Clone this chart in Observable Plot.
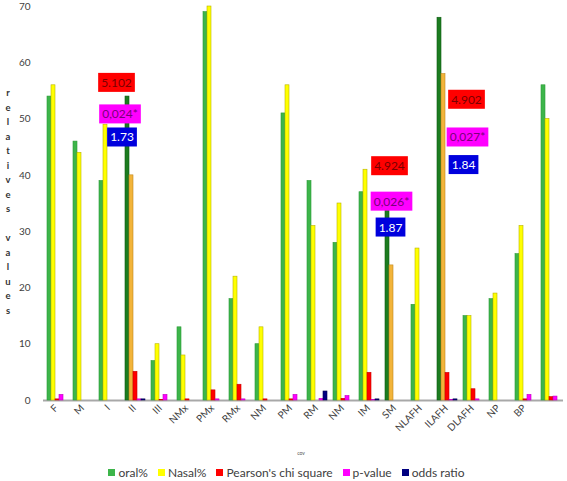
<!DOCTYPE html>
<html><head><meta charset="utf-8">
<script src="https://cdn.jsdelivr.net/npm/d3@7"></script>
<script src="https://cdn.jsdelivr.net/npm/@observablehq/plot@0.6"></script>
<style>
body{margin:0;background:#fff;font-family:Lato,"Open Sans",sans-serif;}
#chart{width:567px;height:481px;position:relative;overflow:hidden;}
#chart svg{display:block;}
.legend{display:flex;justify-content:center;align-items:center;height:21px;margin-top:2px;font-size:12px;color:#404040;padding-left:6px;}
.legend span.item{display:flex;align-items:center;margin:0 5px;}
.legend span.sw{display:inline-block;width:7px;height:7px;margin-right:3px;}
</style></head><body><div id="chart"></div><script>
// ---- data ----
const categories = ["F","M","I","II","III","NMx","PMx","RMx","NM","PM","RM","NM","IM","SM","NLAFH","ILAFH","DLAFH","NP","BP",""];
const oral      = [54,46,39,54,7,13,69,18,10,51,39,28,37,34,17,68,15,18,26,56];
const nasal     = [56,44,49,40,10,8,70,22,13,56,31,35,41,24,27,58,15,19,31,50];
const chiSquare = [0.2,0,0,5.102,0.1,0.2,1.8,2.8,0.2,0.2,0,0.3,4.924,0,0,4.902,2.0,0,0.2,0.6];
const pValue    = [1.0,0,0,0.2,1.0,0,0.2,0.2,0,1.0,0.3,0.8,0.1,0,0,0.1,0.2,0,1.0,0.7];
const oddsRatio = [0,0,0,0.2,0,0,0,0,0,0,1.6,0,0.2,0,0,0.2,0,0,0,0];
const series = ["oral%","Nasal%","Pearson's chi square","p-value","odds ratio"];
const significantGroups = [3,13,15];
const chiLabels = ["5.102","4.924","4.902"];
const pLabels   = ["0,024*","0,026*","0,027*"];
const orLabels  = ["1.73","1.87","1.84"];
const yTicks = [0,10,20,30,40,50,60,70];

// ---- styling / layout ----
const seriesColors = ["#3db54a","#ffff00","#ff0000","#ff00ff","#000080"];
const seriesStroke = ["#2a9a36","#b8b400","#c80000","#c000c0","#000050"];
const sigFill = ["#1c7c20","#f2b43a"];
const sigStroke = ["#0f5a12","#c08820"];
// annotation anchor (y in data units) and horizontal offset (px) per significant group
const annY  = [[56.4,50.8,46.7],[41.6,35.3,30.7],[53.4,46.7,41.8]];
const annDx = [[-18,-14.5,-12.5],[-5,-3,-4],[20,21,17]];
const annStyle = [
  {labels: chiLabels, box:"#ff0000", text:"#7a0000"},
  {labels: pLabels,   box:"#ff00ff", text:"#7a007a"},
  {labels: orLabels,  box:"#0000dd", text:"#ffffff"}
];

const rows = [];
categories.forEach((c, i) => {
  const vals = [oral[i], nasal[i], chiSquare[i], pValue[i], oddsRatio[i]];
  vals.forEach((v, s) => {
    const sig = significantGroups.includes(i) && s < 2;
    rows.push({group: i, series: series[s], value: v,
      fill: sig ? sigFill[s] : seriesColors[s],
      stroke: sig ? sigStroke[s] : seriesStroke[s]});
  });
});

const annMarks = [];
significantGroups.forEach((g, k) => {
  annStyle.forEach((st, j) => {
    annMarks.push(Plot.text([{group: g, y: annY[k][j], label: st.labels[k]}], {
      fx: "group", y: "y", text: "label", dx: annDx[k][j],
      fill: st.text, fontSize: 12
    }));
  });
});

const W = 567, H = 460;
const plot = Plot.plot({
  width: W, height: H,
  marginLeft: 42, marginRight: 4, marginTop: 6, marginBottom: 60,
  style: {fontFamily: "Lato, 'Open Sans', sans-serif", background: "#fff"},
  fx: {domain: d3.range(categories.length), padding: 0, label: null,
       tickFormat: i => categories[i], tickRotate: -45, tickSize: 0, tickPadding: 6, fontSize: 12},
  x: {domain: series, axis: null, paddingInner: 0, paddingOuter: 0.12, align: 0.65},
  y: {domain: [0,70], ticks: yTicks, tickSize: 0, tickPadding: 13, label: null, fontSize: 13},
  marks: [
    Plot.ruleY([0], {stroke: "#a8a8a8", strokeWidth: 2}),
    Plot.barY(rows, {fx: "group", x: "series", y: "value", fill: "fill", stroke: "stroke", strokeWidth: 0.6}),
    ...annMarks
  ]
});
const chart = document.getElementById("chart");
chart.appendChild(plot);

d3.select(plot).selectAll("g[aria-label='y-axis tick label'], g[aria-label='fx-axis tick label']").attr("fill", "#404040");

// boxes behind annotation labels
plot.querySelectorAll("text").forEach(t => {
  const st = annStyle.find(s => s.labels.includes(t.textContent));
  if (!st) return;
  const b = t.getBBox();
  const r = document.createElementNS("http://www.w3.org/2000/svg", "rect");
  r.setAttribute("x", b.x - 3);
  r.setAttribute("y", b.y + b.height / 2 - 9.5);
  r.setAttribute("width", b.width + 6);
  r.setAttribute("height", 19);
  r.setAttribute("fill", st.box);
  const tr = t.getAttribute("transform");
  if (tr) r.setAttribute("transform", tr);
  t.parentNode.insertBefore(r, t);
});

// vertical stacked y-axis title
const svg = d3.select(plot);
const title = "relatives values";
svg.append("g").attr("fill", "#333").attr("font-size", 9.5).attr("font-weight", "bold")
  .attr("text-anchor", "middle")
  .selectAll("text").data(title.split("")).join("text")
  .attr("x", 8).attr("y", (d, i) => 96 + i * 14.5).text(d => d);

// x-axis title
svg.append("text").attr("x", 301).attr("y", 455).attr("font-size", 5).attr("fill", "#555")
  .attr("text-anchor", "middle").text("cov");

// legend
const legend = document.createElement("div");
legend.className = "legend";
series.forEach((s, i) => {
  const it = document.createElement("span"); it.className = "item";
  const sw = document.createElement("span"); sw.className = "sw"; sw.style.background = seriesColors[i];
  it.appendChild(sw);
  it.appendChild(document.createTextNode(s));
  legend.appendChild(it);
});
chart.appendChild(legend);
</script></body></html>
